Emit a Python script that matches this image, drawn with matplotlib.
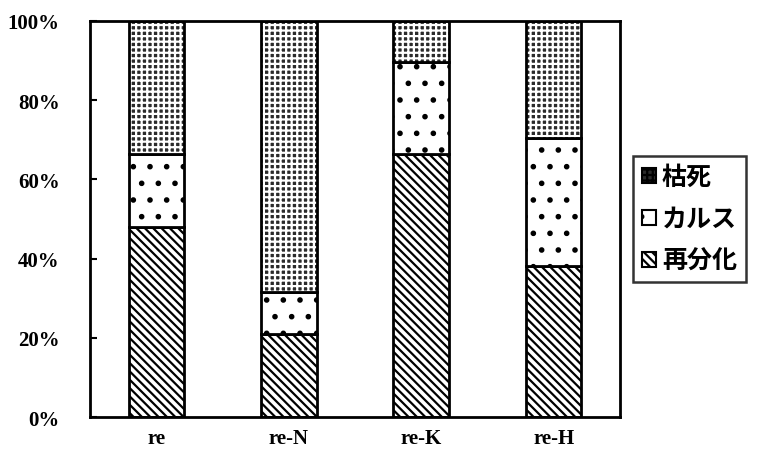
import numpy as np
import matplotlib.pyplot as plt

plt.rcParams['hatch.linewidth'] = 1.6

categories = ['re', 're-N', 're-K', 're-H']
regen = [48, 21, 66.5, 38]
callus = [18.5, 10.5, 23, 32.5]
dead = [33.5, 68.5, 10.5, 29.5]

fig = plt.figure(figsize=(7.71, 4.64), dpi=100)
ax = fig.add_axes([0.117, 0.099, 0.687, 0.854])

x = np.arange(len(categories))
w = 0.42
b1 = ax.bar(x, regen, w, color='white', edgecolor='black', hatch='\\\\\\\\', linewidth=2)
b2 = ax.bar(x, callus, w, bottom=regen, color='white', edgecolor='black', hatch='.', linewidth=2)
bottom3 = np.array(regen) + np.array(callus)
b3 = ax.bar(x, dead, w, bottom=bottom3, color='#2a2a2a', edgecolor='white', hatch='+++', linewidth=0)
ax.bar(x, dead, w, bottom=bottom3, color='none', edgecolor='black', linewidth=2)

ax.set_xlim(-0.5, 3.5)
ax.set_ylim(0, 100)
ax.set_yticks(np.arange(0, 101, 20))
ax.set_yticklabels([f'{v}%' for v in range(0, 101, 20)],
                   fontfamily='Liberation Serif', fontweight='bold', fontsize=15)
ax.set_xticks(x)
ax.set_xticklabels(categories, fontfamily='Liberation Serif', fontweight='bold', fontsize=15)
ax.tick_params(axis='y', direction='in', length=5, width=1.5, pad=22)
ax.tick_params(axis='x', length=0, pad=8)
for s in ax.spines.values():
    s.set_linewidth(2)

leg = ax.legend([b3, b2, b1], ['枯死', 'カルス', '再分化'], loc='center left',
                bbox_to_anchor=(1.025, 0.5), frameon=True, fancybox=False,
                prop={'family': ['Noto Sans CJK JP'], 'weight': 'bold', 'size': 18},
                handlelength=0.55, handleheight=0.55, handletextpad=0.25,
                labelspacing=0.72, borderpad=0.35, borderaxespad=0)
leg.get_frame().set_edgecolor('black')
leg.get_frame().set_linewidth(1.8)
for h in leg.legend_handles:
    h.set_edgecolor('black')
    h.set_linewidth(1.5)

fig.savefig('out.png', dpi=100)
